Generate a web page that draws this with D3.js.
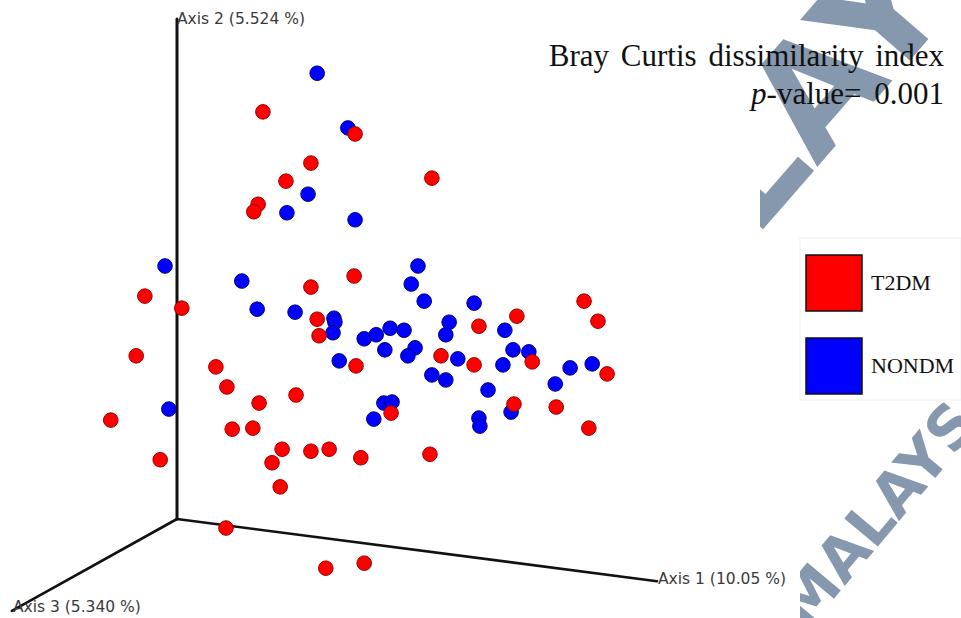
<!DOCTYPE html>
<html>
<head>
<meta charset="utf-8">
<script src="https://cdn.jsdelivr.net/npm/d3@7"></script>
<style>
  html, body { margin: 0; padding: 0; background: #fff; }
  svg { display: block; }
</style>
</head>
<body>
<svg id="chart" width="961" height="618"></svg>
<script>
// PCoA ordination (Bray-Curtis), points given in the projected viewing plane:
// horizontal = position along the screen x, vertical = position along the screen y,
// both in units of the drawn axis-1 / axis-2 lengths.
const groups = ["T2DM", "NONDM"];
const groupColors = ["#ff0000", "#0000ff"];
const groupStrokes = ["#9b0000", "#00007a"];

const t2dmX = [0.179, 0.371, 0.279, 0.531, 0.227, 0.169, 0.160, 0.369, 0.279, -0.067,
               0.010, 0.292, 0.296, -0.085, 0.081, 0.104, 0.248, 0.171, -0.138, 0.115,
               0.158, 0.219, 0.279, 0.317, -0.035, 0.198, 0.215, 0.383, 0.527, 0.446,
               0.550, 0.619, 0.629, 0.708, 0.848, 0.877, 0.740, 0.896, 0.702, 0.790,
               0.858, 0.373, 0.102, 0.310, 0.390];
const t2dmY = [0.811, 0.767, 0.709, 0.679, 0.673, 0.627, 0.612, 0.484, 0.462, 0.444,
               0.420, 0.398, 0.365, 0.325, 0.303, 0.263, 0.247, 0.231, 0.197, 0.179,
               0.181, 0.139, 0.135, 0.139, 0.118, 0.112, 0.064, 0.122, 0.129, 0.211,
               0.325, 0.307, 0.384, 0.404, 0.434, 0.394, 0.313, 0.289, 0.229, 0.223,
               0.181, 0.305, -0.018, -0.098, -0.088];

const nondmX = [0.292, 0.356, 0.273, 0.229, 0.371, -0.025, 0.135, 0.502, 0.488, 0.515,
                0.619, 0.167, 0.246, 0.327, 0.329, 0.325, 0.338, 0.390, 0.415, 0.444,
                0.473, 0.567, 0.560, 0.433, 0.496, 0.481, 0.585, 0.683, 0.700, 0.733,
                0.679, 0.531, 0.560, 0.648, 0.819, 0.865, 0.788, 0.431, 0.448, 0.410,
                0.696, 0.629, 0.631, -0.017];
const nondmY = [0.888, 0.779, 0.647, 0.610, 0.596, 0.504, 0.474, 0.504, 0.468, 0.434,
                0.430, 0.418, 0.412, 0.400, 0.392, 0.371, 0.315, 0.359, 0.367, 0.380,
                0.376, 0.392, 0.367, 0.337, 0.341, 0.325, 0.319, 0.376, 0.337, 0.333,
                0.307, 0.287, 0.277, 0.257, 0.301, 0.309, 0.269, 0.231, 0.233, 0.199,
                0.213, 0.201, 0.185, 0.219];

// Axis tips in the same projected plane (origin at 0,0)
const axisLabels = ["Axis 1 (10.05 %)", "Axis 2 (5.524 %)", "Axis 3 (5.340 %)"];
const axisTipX = [1.0, 0.0, -0.344];
const axisTipY = [-0.124, 0.996, -0.183];

const titleLine = "Bray Curtis dissimilarity index";
const statLabel = "-value= 0.001";

const svg = d3.select("#chart");
const W = 961, H = 618;

const x = d3.scaleLinear().domain([0, 1]).range([177, 657]);
const y = d3.scaleLinear().domain([0, 1]).range([519, 17]);

// ---- watermark (behind everything on the right-hand side) ----
const wm = svg.append("g").attr("class", "watermark");
wm.append("clipPath").attr("id", "wmclip")
  .append("path")
  .attr("d", `M760,0 L${W},0 L${W},${H} L800,${H} L800,240 L760,240 Z`);
const wmg = wm.append("g").attr("clip-path", "url(#wmclip)")
  .attr("fill", "#8598ae").attr("font-family", "DejaVu Sans, sans-serif")
  .attr("font-weight", "bold");
wmg.append("text")
  .attr("transform", "translate(580,440) rotate(-49)")
  .attr("font-size", 150)
  .text("MALAYSIA");
wmg.append("text")
  .attr("transform", "translate(806,632) rotate(-50)")
  .attr("font-size", 60)
  .text("MALAYSIA");

// white panel under the legend
svg.append("rect")
  .attr("x", 800).attr("y", 238).attr("width", W - 800).attr("height", 162)
  .attr("fill", "#fff").attr("stroke", "#f0f0f0").attr("stroke-width", 1);

// ---- axes ----
const axes = svg.append("g").attr("class", "axes");
axisLabels.forEach((lab, i) => {
  axes.append("line")
    .attr("x1", x(0)).attr("y1", y(0))
    .attr("x2", x(axisTipX[i])).attr("y2", y(axisTipY[i]))
    .attr("stroke", "#111").attr("stroke-width", i === 1 ? 3 : 2.6)
    .attr("stroke-linecap", "round");
});
const labelStyle = sel => sel
  .attr("font-family", "DejaVu Sans, Verdana, sans-serif")
  .attr("font-size", 15.5).attr("fill", "#3a3a3a");
axes.append("text").call(labelStyle)
  .attr("x", x(axisTipX[0]) + 1).attr("y", y(axisTipY[0]) + 3)
  .text(axisLabels[0]);
axes.append("text").call(labelStyle)
  .attr("x", x(axisTipX[1])).attr("y", y(axisTipY[1]) + 5)
  .text(axisLabels[1]);
axes.append("text").call(labelStyle)
  .attr("x", x(axisTipX[2]) + 1).attr("y", y(axisTipY[2]) + 1)
  .text(axisLabels[2]);

// ---- points ----
const pts = svg.append("g").attr("class", "points");
const series = [
  { xs: nondmX, ys: nondmY, g: 1 },
  { xs: t2dmX, ys: t2dmY, g: 0 }
];
series.forEach(s => {
  pts.append("g").selectAll("circle")
    .data(s.xs.map((v, i) => [v, s.ys[i]]))
    .join("circle")
    .attr("cx", d => x(d[0]))
    .attr("cy", d => y(d[1]))
    .attr("r", 7.3)
    .attr("fill", groupColors[s.g])
    .attr("stroke", groupStrokes[s.g])
    .attr("stroke-width", 1);
});

// ---- title / statistic ----
const serif = "Liberation Serif, Times New Roman, serif";
svg.append("text")
  .attr("x", 944).attr("y", 66)
  .attr("text-anchor", "end")
  .attr("font-family", serif).attr("font-size", 31)
  .attr("word-spacing", 4)
  .attr("fill", "#111")
  .text(titleLine);
const stat = svg.append("text")
  .attr("x", 944).attr("y", 104)
  .attr("text-anchor", "end")
  .attr("font-family", serif).attr("font-size", 31)
  .attr("word-spacing", 5)
  .attr("fill", "#111");
stat.append("tspan").attr("font-style", "italic").text("p");
stat.append("tspan").text(statLabel);

// ---- legend ----
const leg = svg.append("g").attr("class", "legend");
groups.forEach((g, i) => {
  const top = 255 + i * 83;
  leg.append("rect")
    .attr("x", 806).attr("y", top).attr("width", 56).attr("height", 56)
    .attr("fill", groupColors[i]).attr("stroke", "#111").attr("stroke-width", 1.5);
  leg.append("text")
    .attr("x", 871).attr("y", top + 35)
    .attr("font-family", serif).attr("font-size", 22)
    .attr("fill", "#111")
    .text(g);
});
</script>
</body>
</html>
